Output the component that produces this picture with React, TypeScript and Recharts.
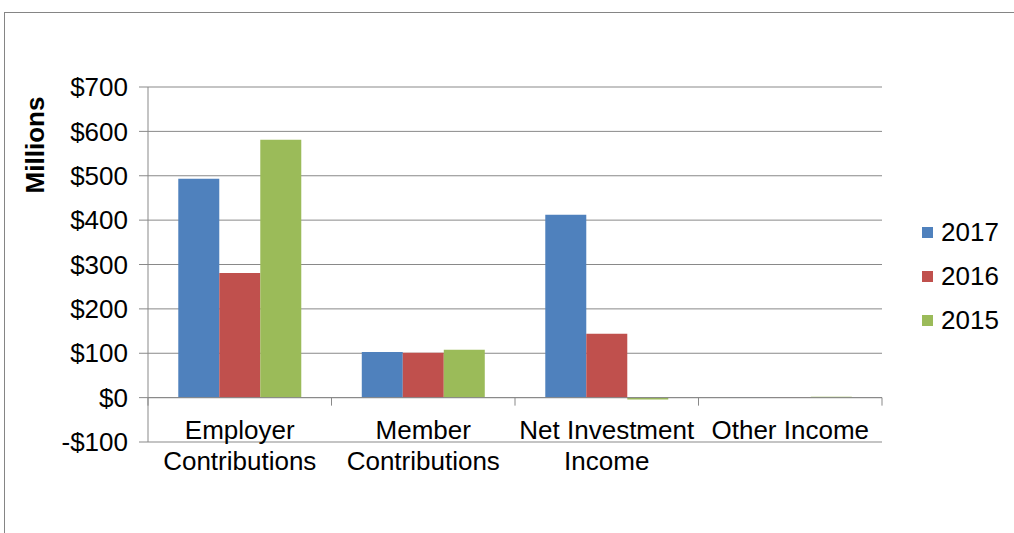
import React from "react";
import { BarChart, Bar, XAxis, YAxis, CartesianGrid, ReferenceLine } from "recharts";

const categories = ["Employer Contributions", "Member Contributions", "Net Investment Income", "Other Income"];
const categoryLines = [["Employer", "Contributions"], ["Member", "Contributions"], ["Net Investment", "Income"], ["Other Income"]];
const values2017 = [493, 103, 412, 0.5];
const values2016 = [281, 101, 144, 0.5];
const values2015 = [581, 108, -4, 2];
const yTicks = [-100, 0, 100, 200, 300, 400, 500, 600, 700];
const seriesNames = ["2017", "2016", "2015"];
const seriesColors = ["#4F81BD", "#C0504D", "#9BBB59"];

const data = categories.map((c, i) => ({
  name: c,
  lines: categoryLines[i],
  y2017: values2017[i],
  y2016: values2016[i],
  y2015: values2015[i],
}));

const W = 1014;
const H = 533;
const M = { top: 87, right: 132, bottom: 0, left: 0 };
const Y_AXIS_W = 148;
const X_AXIS_H = 91;
const plotW = W - M.left - M.right - Y_AXIS_W;
const plotH = H - M.top - M.bottom - X_AXIS_H;
const band = plotW / categories.length;
// y pixel of the zero line, from the axis domain [-100, 700]
const zeroY = M.top + plotH * (700 / 800);

const FONT = "'Liberation Sans', Arial, sans-serif";
const GRID = "#898989";

const fmt = (v: number) => (v < 0 ? `-$${Math.abs(v)}` : `$${v}`);

function CatTick(props: any) {
  const { x, index, payload } = props;
  const lines: string[] = data[index]?.lines ?? [String(payload.value)];
  const right = x + band / 2;
  return (
    <g>
      {index === 0 && <line x1={x - band / 2} x2={x - band / 2} y1={zeroY} y2={zeroY + 8} stroke={GRID} />}
      <line x1={right} x2={right} y1={zeroY} y2={zeroY + 8} stroke={GRID} />
      {lines.map((l, i) => (
        <text key={i} x={x} y={zeroY + 41 + i * 31} textAnchor="middle" fontSize={26} fontFamily={FONT} fill="#000">
          {l}
        </text>
      ))}
    </g>
  );
}

function Legend() {
  return (
    <div style={{ position: "absolute", left: 922, top: 217, fontFamily: FONT, fontSize: 26 }}>
      {seriesNames.map((n, i) => (
        <div key={n} style={{ display: "flex", alignItems: "center", height: 30, marginBottom: 14 }}>
          <span style={{ width: 11, height: 11, background: seriesColors[i], display: "inline-block", marginRight: 8 }} />
          <span>{n}</span>
        </div>
      ))}
    </div>
  );
}

export default function App() {
  return (
    <div style={{ position: "absolute", left: 0, top: 0, width: W, height: H, overflow: "hidden", background: "#fff" }}>
      <div
        style={{
          position: "absolute",
          left: 4,
          top: 12,
          width: 1100,
          height: 600,
          borderLeft: "1.5px solid #858585",
          borderTop: "1.5px solid #858585",
        }}
      />
      <div style={{ position: "absolute", left: 0, top: 0 }}>
        <BarChart width={W} height={H} data={data} margin={M} barCategoryGap="16.5%" barGap={0}>
          <CartesianGrid horizontal vertical={false} stroke={GRID} strokeWidth={1} />
          <XAxis dataKey="name" axisLine={false} tickLine={false} height={X_AXIS_H} interval={0} tick={(p: any) => <CatTick {...p} />} />
          <YAxis
            width={Y_AXIS_W}
            domain={[-100, 700]}
            ticks={yTicks}
            interval={0}
            tickFormatter={fmt}
            stroke={GRID}
            tickSize={9}
            tickMargin={11}
            tick={{ fontSize: 26, fontFamily: FONT, fill: "#000" }}
            label={{
              content: () => (
                <text
                  x={35}
                  y={145}
                  transform="rotate(-90 35 145)"
                  textAnchor="middle"
                  dominantBaseline="central"
                  fontSize={26}
                  fontWeight="bold"
                  fontFamily={FONT}
                  fill="#000"
                >
                  Millions
                </text>
              ),
            }}
          />
          <ReferenceLine y={0} stroke={GRID} />
          <Bar dataKey="y2017" name="2017" fill={seriesColors[0]} isAnimationActive={false} />
          <Bar dataKey="y2016" name="2016" fill={seriesColors[1]} isAnimationActive={false} />
          <Bar dataKey="y2015" name="2015" fill={seriesColors[2]} isAnimationActive={false} />
        </BarChart>
      </div>
      <Legend />
    </div>
  );
}
